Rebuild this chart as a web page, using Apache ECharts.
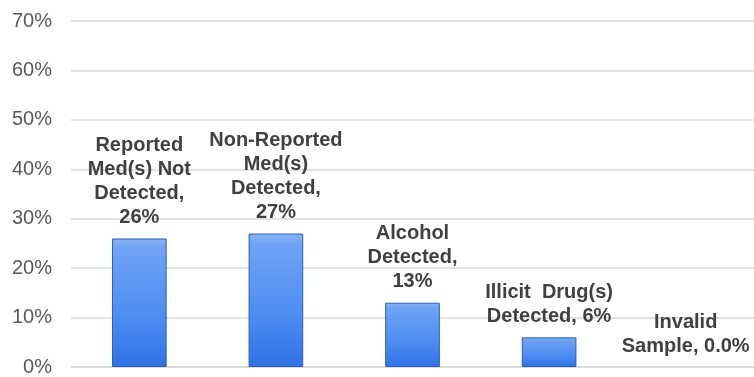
<!DOCTYPE html>
<html>
<head>
<meta charset="utf-8">
<script src="https://cdn.jsdelivr.net/npm/echarts@6/dist/echarts.min.js"></script>
<style>
  html, body { margin: 0; padding: 0; background: #fff; }
  #main { width: 754px; height: 377px; }
</style>
</head>
<body>
<div id="main"></div>
<script>
// categories and values (percent)
var categories = [
    'Reported\nMed(s) Not\nDetected',
    'Non-Reported\nMed(s)\nDetected',
    'Alcohol\nDetected',
    'Illicit  Drug(s)\nDetected',
    'Invalid\nSample'
];
var values = [26, 27, 13, 6, 0];
var valueText = ['26%', '27%', '13%', '6%', '0.0%'];
var labelSep = ['\n', '\n', '\n', ' ', ' '];

var myChart = echarts.init(document.getElementById('main'));
var option = {
    animation: false,
    grid: { left: 71, right: 0, top: 21, bottom: 4 },
    xAxis: {
        type: 'category',
        data: categories,
        axisLine: { lineStyle: { color: '#d9d9d9', width: 1.5 } },
        axisTick: { show: false },
        axisLabel: { show: false }
    },
    yAxis: {
        type: 'value',
        min: 0,
        max: 70,
        interval: 10,
        axisLine: { show: false },
        axisTick: { show: false },
        axisLabel: {
            formatter: '{value}%',
            color: '#595959',
            fontFamily: 'Liberation Sans, Arial, sans-serif',
            fontSize: 20,
            margin: 19
        },
        splitLine: { lineStyle: { color: '#d9d9d9', width: 1.5 } }
    },
    series: [{
        type: 'bar',
        barWidth: '40%',
        data: values.map(function (v) {
            // a zero bar shows no outline in the original
            return v === 0 ? { value: v, itemStyle: { borderWidth: 0, opacity: 0 } } : v;
        }),
        itemStyle: {
            color: new echarts.graphic.LinearGradient(0, 0, 0, 1, [
                { offset: 0, color: '#8ab4f7' },
                { offset: 0.08, color: '#6fa2f4' },
                { offset: 0.6, color: '#4d8ef2' },
                { offset: 1, color: '#2f72e6' }
            ]),
            borderColor: '#2c5eb4',
            borderWidth: 1
        },
        label: {
            show: true,
            position: 'top',
            distance: 9,
            opacity: 1,
            color: '#404040',
            fontFamily: 'Liberation Sans, Arial, sans-serif',
            fontWeight: 'bold',
            fontSize: 20,
            lineHeight: 24,
            formatter: function (p) {
                return categories[p.dataIndex] + ',' + labelSep[p.dataIndex] + valueText[p.dataIndex];
            }
        }
    }]
};
myChart.setOption(option);
</script>
</body>
</html>
